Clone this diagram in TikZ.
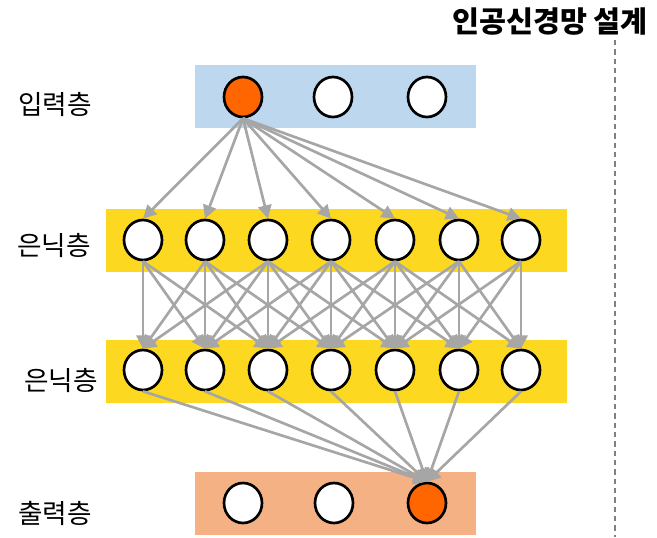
\documentclass[tikz,border=0pt]{standalone}
\usepackage{fontspec}
\setmainfont{Noto Sans CJK KR}
\usetikzlibrary{arrows.meta,shapes.geometric}

\definecolor{inblue}{HTML}{BDD7EE}
\definecolor{hidyellow}{HTML}{FDD821}
\definecolor{outpeach}{HTML}{F4B183}
\definecolor{hotorange}{HTML}{FF6600}
\definecolor{linkgray}{HTML}{A6A6A6}

\tikzset{
  neuron/.style={ellipse,draw=black,line width=2pt,fill=white,
    minimum width=28.5pt,minimum height=30pt,inner sep=0pt},
  link/.style={draw=linkgray,line width=2pt,
    -{Triangle[length=10pt,width=10pt]}},
  layername/.style={inner sep=0pt,font=\fontsize{20pt}{24pt}\selectfont},
}

\begin{document}
\begin{tikzpicture}[x=0.75pt,y=-0.75pt]
  \useasboundingbox (0,0) rectangle (657,537);

  % layer bands
  \fill[inblue] (195,65) rectangle (476,128);
  \fill[hidyellow] (106,209) rectangle (567,272);
  \fill[hidyellow] (106,340) rectangle (567,403);
  \fill[outpeach] (195,472) rectangle (476,535);

  % neurons
  \node[neuron,fill=hotorange] (i1) at (243,97) {};
  \node[neuron] (i2) at (333,97) {};
  \node[neuron] (i3) at (427,97) {};
  \foreach \x [count=\i] in {143,205,268,331,395,459,521}{
    \node[neuron] (h\i) at (\x,240) {};
    \node[neuron] (g\i) at (\x,370) {};
  }
  \node[neuron] (o1) at (243,503) {};
  \node[neuron] (o2) at (334,503) {};
  \node[neuron,fill=hotorange] (o3) at (427,503) {};

  % connections
  \foreach \i in {1,...,7}
    \draw[link] (i1.south) -- (h\i.north);
  \foreach \i in {1,...,7}
    \foreach \j in {1,...,7}{
      \pgfmathtruncatemacro{\gap}{abs(\i-\j)}
      \ifnum\gap<3
        \draw[link] (h\i.south) -- (g\j.north);
      \fi
    }
  \foreach \i in {1,...,7}
    \draw[link] (g\i.south) -- (o3.north);

  % labels
  \node[layername] (inname) at (55,104) {입력층};
  \node[layername] (hidname1) at (54,245) {은닉층};
  \node[layername] (hidname2) at (61,380) {은닉층};
  \node[layername] (outname) at (55,513) {출력층};

  \node[layername,font=\fontsize{22pt}{26pt}\selectfont\bfseries] (title) at (550,22) {인공신경망 설계};
  \draw[gray,line width=1pt,dash pattern=on 4pt off 3pt] (615,40) -- (615,537);
\end{tikzpicture}
\end{document}
